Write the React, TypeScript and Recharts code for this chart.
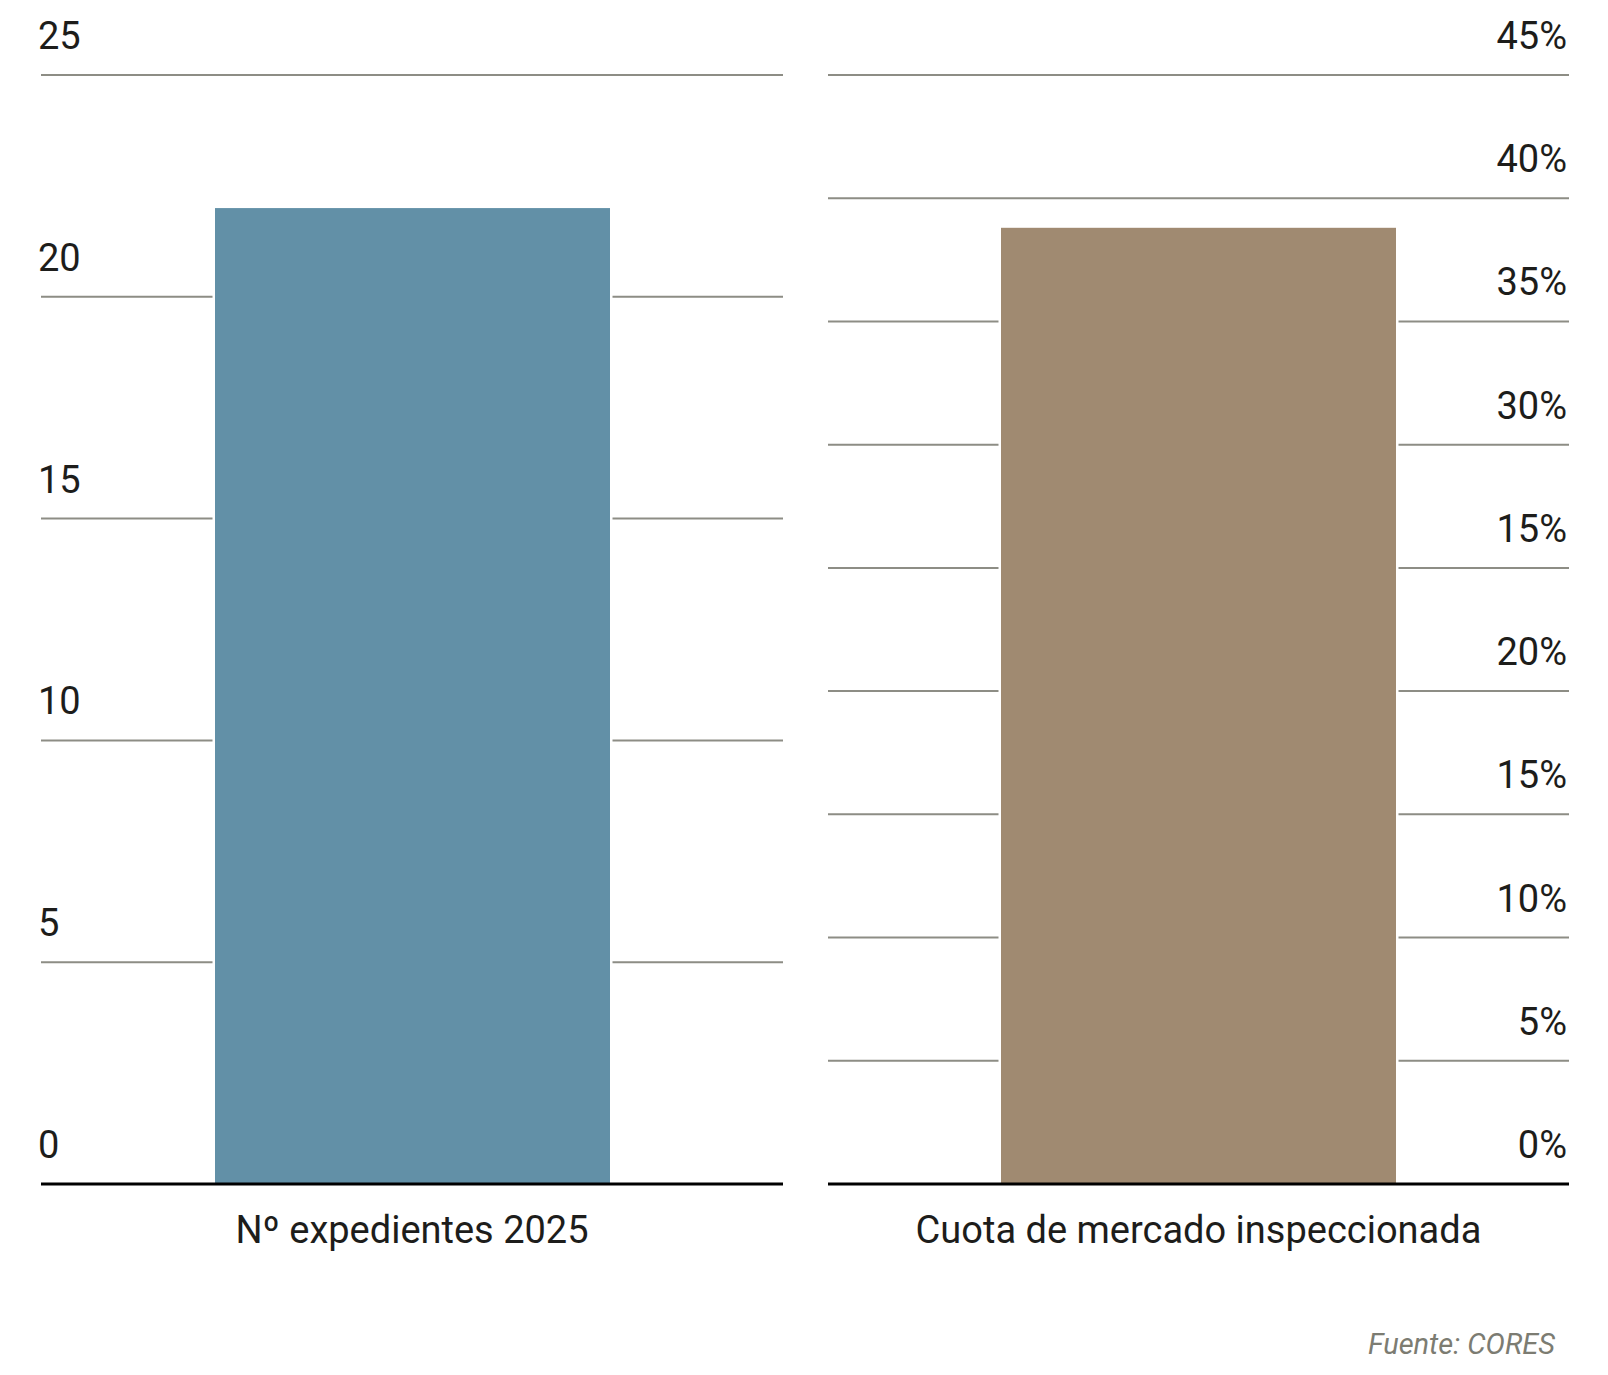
import { Bar, BarChart, CartesianGrid, XAxis, YAxis } from "recharts";

const leftCategories = ["Nº expedientes 2025"];
const leftValues = [22];
const leftTicks = [0, 5, 10, 15, 20, 25];

const rightCategories = ["Cuota de mercado inspeccionada"];
const rightValues = [38.8];
const rightTicks = [0, 5, 10, 15, 20, 25, 30, 35, 40, 45];
const rightTickLabels = ["0%", "5%", "10%", "15%", "20%", "15%", "30%", "35%", "40%", "45%"];

const FONT = "Roboto, 'Noto Sans', sans-serif";
const TEXT = "#1d1d1b";
const GRID = "#8d8d85";

const leftData = leftCategories.map((name, i) => ({ name, value: leftValues[i] }));
const rightData = rightCategories.map((name, i) => ({ name, value: rightValues[i] }));

// bar with a thin white gap on both sides so the grid stops short of it
function GappedBar(props: any) {
  const { x, y, width, height, fill } = props;
  return (
    <g>
      <rect x={x - 2.5} y={y} width={width + 5} height={Math.max(height - 2, 0)} fill="#fff" />
      <rect x={x} y={y} width={width} height={height} fill={fill} />
    </g>
  );
}

const categoryTick = (props: any) => {
  const { x, y, payload } = props;
  return (
    <text x={x} y={y + 59} textAnchor="middle" fontFamily={FONT} fontSize={38} fill={TEXT}>
      {payload.value}
    </text>
  );
};

const leftTick = (props: any) => {
  const { y, payload } = props;
  return (
    <text x={38} y={y - 26} textAnchor="start" fontFamily={FONT} fontSize={38} fill={TEXT}>
      {payload.value}
    </text>
  );
};

const rightTick = (props: any) => {
  const { y, payload } = props;
  const idx = rightTicks.indexOf(payload.value);
  return (
    <text x={1567 - 808} y={y - 26} textAnchor="end" fontFamily={FONT} fontSize={38} fill={TEXT}>
      {rightTickLabels[idx]}
    </text>
  );
};

export default function App() {
  return (
    <div style={{ position: "absolute", left: 0, top: 0, width: 1608, height: 1375, background: "#fff" }}>
      <div style={{ position: "absolute", left: 0, top: 0 }}>
        <BarChart
          width={800}
          height={1300}
          data={leftData}
          margin={{ top: 75, right: 17, bottom: 56, left: 40 }}
        >
          <CartesianGrid vertical={false} stroke={GRID} strokeWidth={2} />
          <YAxis
            width={1}
            domain={[0, 25]}
            ticks={leftTicks}
            axisLine={false}
            tickLine={false}
            tick={leftTick}
            interval={0}
          />
          <Bar dataKey="value" fill="#6290a7" barSize={395} shape={<GappedBar />} isAnimationActive={false} />
          <XAxis
            dataKey="name"
            height={60}
            axisLine={{ stroke: "#000", strokeWidth: 3 }}
            tickLine={false}
            tickSize={0}
            tickMargin={0}
            tick={categoryTick}
          />
        </BarChart>
      </div>
      <div style={{ position: "absolute", left: 808, top: 0 }}>
        <BarChart
          width={800}
          height={1300}
          data={rightData}
          margin={{ top: 75, right: 39, bottom: 56, left: 19 }}
        >
          <CartesianGrid vertical={false} stroke={GRID} strokeWidth={2} />
          <YAxis
            width={1}
            domain={[0, 45]}
            ticks={rightTicks}
            axisLine={false}
            tickLine={false}
            tick={rightTick}
            interval={0}
          />
          <Bar dataKey="value" fill="#a08a71" barSize={395} shape={<GappedBar />} isAnimationActive={false} />
          <XAxis
            dataKey="name"
            height={60}
            axisLine={{ stroke: "#000", strokeWidth: 3 }}
            tickLine={false}
            tickSize={0}
            tickMargin={0}
            tick={categoryTick}
          />
        </BarChart>
      </div>
      <svg width={1608} height={1375} style={{ position: "absolute", left: 0, top: 0, pointerEvents: "none" }}>
        <text x={1555} y={1354} textAnchor="end" fontFamily={FONT} fontStyle="italic" fontSize={29} fill="#7c7c72">
          Fuente: CORES
        </text>
      </svg>
    </div>
  );
}
